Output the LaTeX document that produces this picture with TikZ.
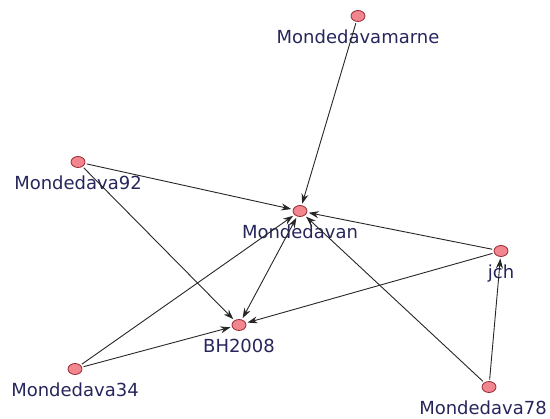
\documentclass[tikz,border=0pt]{standalone}
\usepackage{fontspec}
\setmainfont{DejaVu Sans}
\usepackage{tikz}
\usetikzlibrary{arrows.meta}
\usetikzlibrary{shapes.geometric}
\definecolor{vtxfill}{RGB}{242,134,142}
\definecolor{vtxline}{RGB}{150,40,50}
\definecolor{vtxtext}{RGB}{38,38,92}
\tikzset{vtx/.style = {ellipse, draw = vtxline, fill = vtxfill, line width = 0.8pt, inner sep = 0, minimum width = 14pt, minimum height = 11pt, outer sep = 2pt}}
\tikzset{lbl/.style = {inner sep = 0, text = vtxtext, font = \fontsize{18}{18}\selectfont, label distance = 6pt}}
\tikzset{edge/.style = {draw = black!85, line width = 0.9pt, -{Stealth[length = 10pt, width = 7pt]}}}

\begin{document}
\begin{tikzpicture}[x = 1pt, y = -1pt]
      \useasboundingbox (0, 0) rectangle (550, 419);
      \node [vtx, label = {[lbl]below:Mondedavamarne}] (marne) at (358, 16) {};
      \node [vtx, label = {[lbl]below:Mondedava92}] (m92) at (78, 162) {};
      \node [vtx, label = {[lbl]below:Mondedavan}] (van) at (300, 211) {};
      \node [vtx, label = {[lbl]below:jch}] (jch) at (501, 251) {};
      \node [vtx, label = {[lbl]below:BH2008}] (bh) at (239, 325) {};
      \node [vtx, label = {[lbl]below:Mondedava34}] (m34) at (75, 369) {};
      \node [vtx, label = {[lbl, xshift = -6pt]below:Mondedava78}] (m78) at (489, 387) {};
      \draw [edge] (marne) -- (van);
      \draw [edge] (m92) -- (van);
      \draw [edge] (m92) -- (bh);
      \draw [edge] (jch) -- (van);
      \draw [edge] (jch) -- (bh);
      \draw [edge] (m34) -- (van);
      \draw [edge] (m34) -- (bh);
      \draw [edge, {Stealth[length = 10pt, width = 7pt]}-{Stealth[length = 10pt, width = 7pt]}] (van) -- (bh);
      \draw [edge] (m78) -- (van);
      \draw [edge] (m78) -- (jch);
    \end{tikzpicture}
\end{document}
